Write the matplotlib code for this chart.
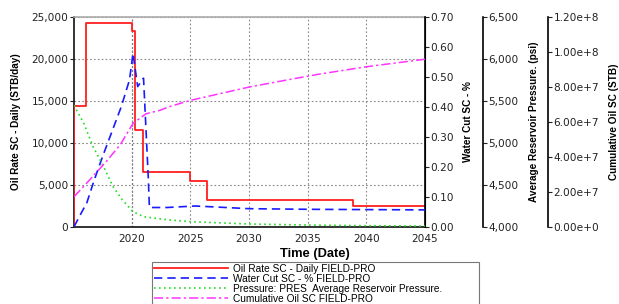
import matplotlib
matplotlib.use("Agg")
import matplotlib.pyplot as plt

plt.rcParams['font.family'] = ['Liberation Sans', 'DejaVu Sans']

# ---- data ----
oil_years = [2015.07, 2015.07, 2016.06, 2020.0, 2020.3, 2020.96, 2025.0, 2026.4, 2038.9, 2045.0]
oil_rate = [0, 14350, 24300, 23300, 11500, 6550, 5450, 3150, 2450, 2450]

wc_years = [2015.07, 2015.9, 2016.1, 2016.8, 2017.5, 2018.2, 2019.1, 2019.8, 2020.1,
            2020.5, 2021.0, 2021.4, 2021.5, 2023.0, 2025.4, 2027.0, 2030.0, 2035.0, 2045.0]
water_cut = [0.0, 0.061, 0.072, 0.156, 0.233, 0.306, 0.40, 0.489, 0.578,
             0.467, 0.495, 0.167, 0.064, 0.064, 0.069, 0.066, 0.060, 0.058, 0.056]

p_years = [2015.07, 2015.9, 2016.7, 2017.6, 2018.4, 2019.2, 2020.1, 2021.0, 2023.2,
           2025.0, 2030.0, 2035.0, 2040.0, 2045.0]
pressure = [5445, 5231, 4952, 4714, 4476, 4318, 4179, 4119, 4080,
            4060, 4032, 4020, 4012, 4008]

c_years = [2015.07, 2016.4, 2017.8, 2019.0, 2020.1, 2021.2, 2022.4, 2023.2, 2025.0,
           2030.0, 2034.0, 2036.0, 2040.0, 2045.0]
cum_oil = [1.71e7, 2.67e7, 3.71e7, 4.67e7, 5.9e7, 6.45e7, 6.65e7, 6.86e7, 7.22e7,
           7.98e7, 8.48e7, 8.72e7, 9.14e7, 9.57e7]

x_ticks = [2020, 2025, 2030, 2035, 2040, 2045]
oil_ticks = [0, 5000, 10000, 15000, 20000, 25000]
wc_ticks = [0.0, 0.1, 0.2, 0.3, 0.4, 0.5, 0.6, 0.7]
p_ticks = [4000, 4500, 5000, 5500, 6000, 6500]
c_ticks = [0, 2e7, 4e7, 6e7, 8e7, 1.0e8, 1.2e8]
c_tick_labels = ["0.00e+0", "2.00e+7", "4.00e+7", "6.00e+7", "8.00e+7", "1.00e+8", "1.20e+8"]

labels = ["Oil Rate SC - Daily FIELD-PRO",
          "Water Cut SC - % FIELD-PRO",
          "Pressure: PRES  Average Reservoir Pressure.",
          "Cumulative Oil SC FIELD-PRO"]

# ---- figure ----
W, H = 619, 304
fig = plt.figure(figsize=(W / 100, H / 100), dpi=100)
ax_w = 425 - 74
ax = fig.add_axes([74 / W, 1 - 226.7 / H, ax_w / W, (226.7 - 16.7) / H])
ax2 = ax.twinx()
ax3 = ax.twinx()
ax4 = ax.twinx()

fs = 7.6
tick_font = 'DejaVu Sans'
lfs = 7.2
tickc = '#222222'


def style_ticks(a):
    for lab in a.get_yticklabels() + a.get_xticklabels():
        lab.set_fontfamily(tick_font)


# main axis
l1, = ax.plot(oil_years, oil_rate, color='#ff2020', lw=1.3, drawstyle='steps-post', zorder=5)
ax.set_xlim(2015.07, 2045)
ax.set_ylim(0, 25000)
ax.set_xticks(x_ticks)
ax.set_yticks(oil_ticks)
ax.set_yticklabels([f"{v:,}" for v in oil_ticks])
ax.grid(True, color='#888888', linestyle=(0, (1.5, 2)), linewidth=0.8)
ax.axvline(2020, color='black', linestyle=(0, (1.5, 2)), linewidth=0.8, zorder=1)
ax.tick_params(axis='both', labelsize=fs, colors=tickc, length=3, width=0.8, pad=1)
ax.tick_params(axis='x', length=0, pad=5)
ax.set_ylabel("Oil Rate SC - Daily (STB/day)", fontsize=lfs, fontweight='bold')
ax.yaxis.set_label_coords((21 - 74) / ax_w, 0.5)
for s in ['left', 'bottom']:
    ax.spines[s].set_linewidth(1.3)
    ax.spines[s].set_color('#222222')
ax.spines['top'].set_color('#aaaaaa')
ax.spines['top'].set_linewidth(1.2)

# water cut
l2, = ax2.plot(wc_years, water_cut, color='#1a1aff', lw=1.2, linestyle=(0, (5, 3)), zorder=5)
ax2.set_ylim(0, 0.70)
ax2.set_yticks(wc_ticks)
ax2.set_yticklabels([f"{v:.2f}" for v in wc_ticks])
ax2.tick_params(labelsize=fs, colors=tickc, length=3, width=0.8, pad=1)
ax2.set_ylabel("Water Cut SC - %", fontsize=lfs, fontweight='bold')
ax2.yaxis.set_label_coords((463 - 74) / ax_w, 0.5)
ax2.spines['right'].set_linewidth(1.2)

# pressure
l3, = ax3.plot(p_years, pressure, color='#22dd22', lw=1.2, linestyle=(0, (1, 2)), zorder=5)
ax3.set_ylim(4000, 6500)
ax3.set_yticks(p_ticks)
ax3.set_yticklabels([f"{v:,}" for v in p_ticks])
ax3.spines['right'].set_position(('axes', (483 - 74) / ax_w))
ax3.spines['right'].set_linewidth(1.2)
ax3.tick_params(labelsize=fs, colors=tickc, length=3, width=0.8, pad=1)
ax3.set_ylabel("Average Reservoir Pressure. (psi)", fontsize=lfs, fontweight='bold')
ax3.yaxis.set_label_coords((529 - 74) / ax_w, 0.5)

# cumulative
l4, = ax4.plot(c_years, cum_oil, color='#ff33ff', lw=1.1, linestyle=(0, (6, 2, 1.5, 2)), zorder=5)
ax4.set_ylim(0, 1.2e8)
ax4.set_yticks(c_ticks)
ax4.set_yticklabels(c_tick_labels)
ax4.spines['right'].set_position(('axes', (548 - 74) / ax_w))
ax4.spines['right'].set_linewidth(1.2)
ax4.tick_params(labelsize=fs, colors=tickc, length=3, width=0.8, pad=1)
ax4.set_ylabel("Cumulative Oil SC (STB)", fontsize=lfs, fontweight='bold')
ax4.yaxis.set_label_coords((609 - 74) / ax_w, 0.5)

for a in (ax, ax2, ax3, ax4):
    style_ticks(a)

for a in (ax2, ax3, ax4):
    for s in ['top', 'left', 'bottom']:
        a.spines[s].set_visible(False)

fig.text(315 / W, 1 - 254 / H, "Time (Date)", ha='center', va='center',
         fontsize=9.3, fontweight='bold')

leg = fig.legend([l1, l2, l3, l4], labels, loc='upper left',
                 bbox_to_anchor=(152 / W, 1 - 262 / H, (479 - 152) / W, 0.0),
                 bbox_transform=fig.transFigure, mode='expand',
                 fontsize=7.3, frameon=True, fancybox=False, handlelength=7.3,
                 handletextpad=0.5, labelspacing=0.0, borderpad=0.15, borderaxespad=0)
leg.get_frame().set_edgecolor('#555555')
leg.get_frame().set_linewidth(0.8)

fig.savefig("out.png", dpi=100)
